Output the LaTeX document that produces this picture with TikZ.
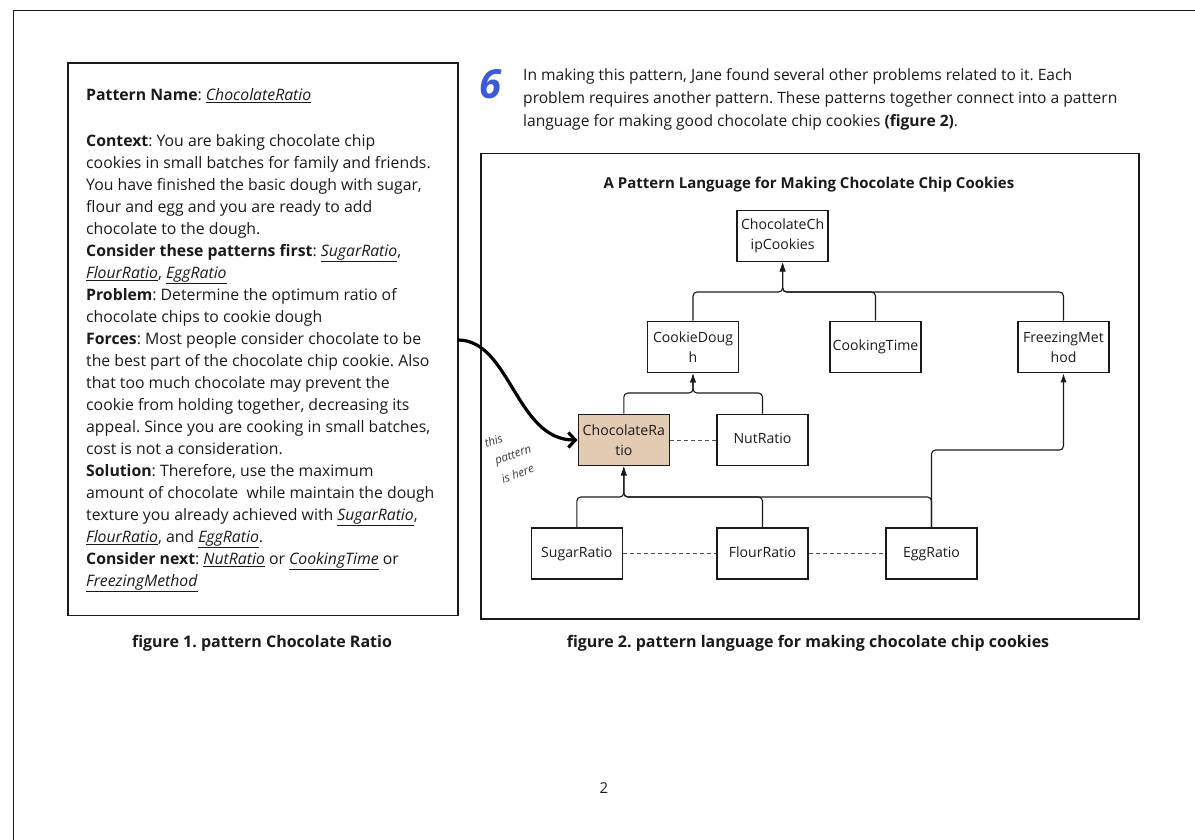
\documentclass[tikz,border=0pt]{standalone}
\usepackage{fontspec}
\setmainfont{Open Sans}
\usetikzlibrary{arrows.meta,calc}
\frenchspacing

\definecolor{ink}{HTML}{1A1A1A}
\definecolor{doughtan}{HTML}{E3CAB3}
\definecolor{numblue}{HTML}{3B5BDB}

\newcommand{\lnk}[1]{\underline{\textit{#1}}}

\begin{document}
\begin{tikzpicture}[x=1pt,y=-1pt,
  frame/.style={draw=ink,line width=1.5pt},
  pbox/.style={draw=ink,line width=1.6pt,minimum width=91pt,minimum height=51pt,
    inner sep=0pt,align=center,text=ink,font=\fontsize{14.1}{20}\selectfont},
  oneline/.style={text height=10.5pt,text depth=3.5pt},
  link/.style={draw=ink,line width=1.1pt,rounded corners=4pt},
  linkarrow/.style={link,-{Latex[length=9pt,width=6pt]}},
  peer/.style={draw=ink!75,line width=1pt,dash pattern=on 4pt off 3pt},
  body/.style={inner sep=0pt,align=left,text=ink},
  caption/.style={inner sep=0pt,text=ink,font=\bfseries\fontsize{16}{19}\selectfont},
  curl/.style={draw=black,line width=3.2pt,-{Straight Barb[length=7pt,width=15pt]}},
  scribble/.style={inner sep=0pt,text=ink!85,rotate=20,align=left,
    font=\itshape\fontsize{11.5}{19.5}\selectfont}
]
\useasboundingbox (0,0) rectangle (1195,840);

% page edge
\draw[ink,line width=1.5pt] (13.5,840) -- (13.5,10.5) -- (1195,10.5);

% figure 1: the pattern card
\node[frame,minimum width=390pt,minimum height=552pt,inner sep=0pt,anchor=north west] (card) at (67,62.5) {};
\node[body,anchor=north west,font=\fontsize{15.8}{22}\selectfont] (cardtext) at (86,88) {%
\textbf{Pattern Name}: \lnk{ChocolateRatio}\\[24pt]
\textbf{Context}: You are baking chocolate chip\\
cookies in small batches for family and friends.\\
You have finished the basic dough with sugar,\\
flour and egg and you are ready to add\\
chocolate to the dough.\\
\textbf{Consider these patterns first}: \lnk{SugarRatio},\\
\lnk{FlourRatio}, \lnk{EggRatio}\\
\textbf{Problem}: Determine the optimum ratio of\\
chocolate chips to cookie dough\\
\textbf{Forces}: Most people consider chocolate to be\\
the best part of the chocolate chip cookie. Also\\
that too much chocolate may prevent the\\
cookie from holding together, decreasing its\\
appeal. Since you are cooking in small batches,\\
cost is not a consideration.\\
\textbf{Solution}: Therefore, use the maximum\\
amount of chocolate\ \ while maintain the dough\\
texture you already achieved with \lnk{SugarRatio},\\
\lnk{FlourRatio}, and \lnk{EggRatio}.\\
\textbf{Consider next}: \lnk{NutRatio} or \lnk{CookingTime} or\\
\lnk{FreezingMethod}};
\node[caption] (cap1) at (262,643) {figure 1. pattern Chocolate Ratio};

% step number and paragraph
\node[inner sep=0pt,text=numblue,font=\bfseries\itshape\fontsize{40}{40}\selectfont] (six) at (491,84) {6};
\node[body,anchor=north west,font=\fontsize{15.6}{23.4}\selectfont] (intro) at (523,68) {%
In making this pattern, Jane found several other problems related to it. Each\\
problem requires another pattern. These patterns together connect into a pattern\\
language for making good chocolate chip cookies \textbf{(figure 2)}.};

% figure 2: the pattern language
\node[frame,minimum width=658pt,minimum height=465pt,inner sep=0pt,anchor=north west] (lang) at (480,153) {};
\node[inner sep=0pt,text=ink,font=\bfseries\fontsize{15}{18}\selectfont] (title) at (809,185)
  {A Pattern Language for Making Chocolate Chip Cookies};

\node[pbox] (ccc)    at (782.6,236)   {ChocolateCh\\ipCookies};
\node[pbox] (cdough) at (693,347)     {CookieDoug\\h};
\node[pbox,oneline] (ctime)  at (875.5,347)   {CookingTime};
\node[pbox] (freeze) at (1063.5,347)  {FreezingMet\\hod};
\node[pbox,fill=doughtan] (cratio) at (623.8,440) {ChocolateRa\\tio};
\node[pbox,oneline] (nut)    at (762.5,440)   {NutRatio};
\node[pbox,oneline] (sugar)  at (576.8,553.5) {SugarRatio};
\node[pbox,oneline] (flour)  at (762.5,553.5) {FlourRatio};
\node[pbox,oneline] (egg)    at (931.5,553.5) {EggRatio};

\coordinate (busTop) at (782.6,292);
\coordinate (busMid) at (693,393);
\coordinate (busBot) at (623.8,497);
\coordinate (eggTurn) at (1063.5,450);

\draw[linkarrow] (cdough.north) |- (busTop) -- (ccc.south);
\draw[linkarrow] (ctime.north)  |- (busTop) -- (ccc.south);
\draw[linkarrow] (freeze.north) |- (busTop) -- (ccc.south);

\draw[linkarrow] (cratio.north) |- (busMid) -- (cdough.south);
\draw[linkarrow] (nut.north)    |- (busMid) -- (cdough.south);

\draw[linkarrow] (sugar.north) |- (busBot) -- (cratio.south);
\draw[linkarrow] (flour.north) |- (busBot) -- (cratio.south);
\draw[linkarrow] (egg.north)   |- (busBot) -- (cratio.south);
\draw[linkarrow] (egg.north)   |- (eggTurn) -- (freeze.south);

\draw[peer] (cratio.east) -- (nut.west);
\draw[peer] (sugar.east) -- (flour.west);
\draw[peer] (flour.east) -- (egg.west);

\node[caption] (cap2) at (808,643) {figure 2. pattern language for making chocolate chip cookies};

% pointer from the card to its place in the language
\coordinate (hook) at (458,340);
\draw[curl] (hook) .. controls (510,340) and (516,440) .. (cratio.west);
\node[scribble] (note) at (511,455) {this\\\hspace{4pt}pattern\\\hspace{4pt}is here};

% page number
\node[inner sep=0pt,text=ink,font=\fontsize{15}{18}\selectfont] (page) at (604,788) {2};
\end{tikzpicture}
\end{document}
